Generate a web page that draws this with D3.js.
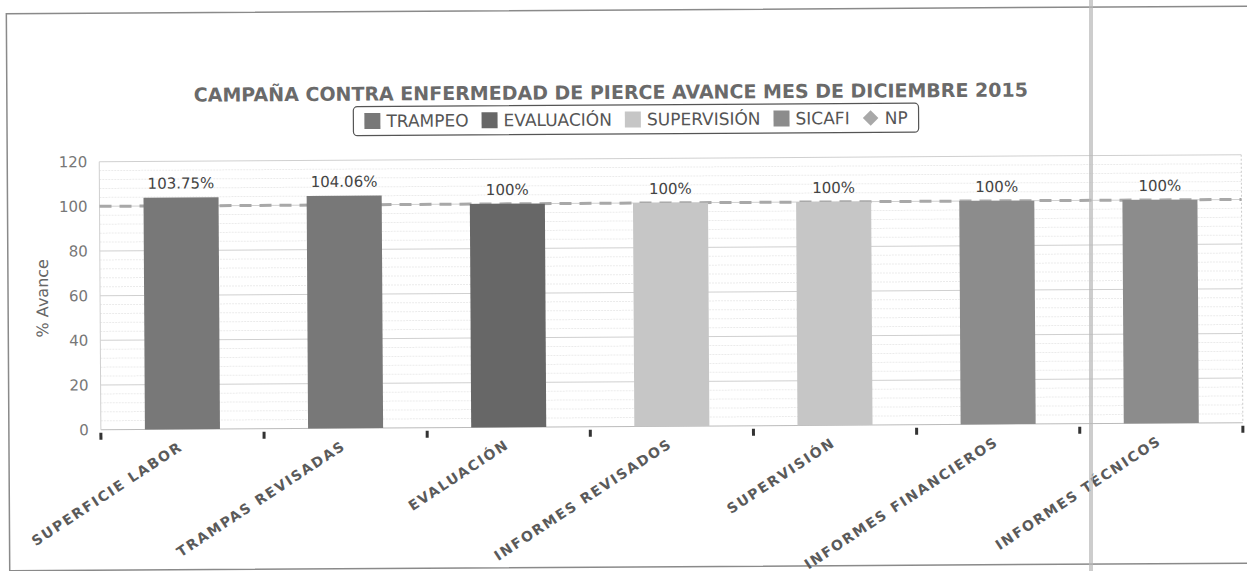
<!DOCTYPE html>
<html>
<head>
<meta charset="utf-8">
<script src="https://cdn.jsdelivr.net/npm/d3@7"></script>
<style>
  body { margin: 0; background: #fff; }
  text { font-family: "DejaVu Sans", Verdana, sans-serif; }
</style>
</head>
<body>
<div id="chart"></div>
<script>
// data
var categories = ['SUPERFICIE LABOR', 'TRAMPAS REVISADAS', 'EVALUACIÓN', 'INFORMES REVISADOS',
                  'SUPERVISIÓN', 'INFORMES FINANCIEROS', 'INFORMES TÉCNICOS'];
var values = [103.75, 104.06, 100, 100, 100, 100, 100];
var valueLabels = ['103.75%', '104.06%', '100%', '100%', '100%', '100%', '100%'];
var barSeries = ['TRAMPEO', 'TRAMPEO', 'EVALUACIÓN', 'SUPERVISIÓN', 'SUPERVISIÓN', 'SICAFI', 'SICAFI'];
var seriesNames = ['TRAMPEO', 'EVALUACIÓN', 'SUPERVISIÓN', 'SICAFI', 'NP'];
var seriesColors = ['#787878', '#676767', '#c6c6c6', '#8c8c8c', '#a8a8a8'];
var npValues = [100, 100, 100, 100, 100, 100, 100];
var yTicks = [0, 20, 40, 60, 80, 100, 120];

var W = 1247, H = 571;
var m = {left: 100, right: 5, top: 158.5, bottom: 144.5};

var svg = d3.select('#chart').append('svg')
  .attr('width', W)
  .attr('height', H);

// the scan is slightly tilted
var root = svg.append('g')
  .attr('transform', 'rotate(-0.35,623,285)');

root.append('rect')
  .attr('x', 8).attr('y', 10)
  .attr('width', W + 10).attr('height', 557)
  .style('fill', 'none')
  .style('stroke', '#8a8a8a')
  .style('stroke-width', 1.5);

var x = d3.scaleBand()
  .domain(categories)
  .range([m.left, W - m.right])
  .paddingInner(0.54)
  .paddingOuter(0.27);

var y = d3.scaleLinear()
  .domain([0, 120])
  .range([H - m.bottom, m.top]);

var color = d3.scaleOrdinal().domain(seriesNames).range(seriesColors);

// minor grid
root.append('g').selectAll('line')
  .data(d3.range(0, 121, 4).filter(function(d){ return d % 20 != 0; }))
  .enter().append('line')
    .attr('x1', m.left).attr('x2', W - m.right)
    .attr('y1', y).attr('y2', y)
    .style('stroke', '#ebebeb')
    .style('stroke-dasharray', '2,1');

// major grid
root.append('g').selectAll('line')
  .data(yTicks)
  .enter().append('line')
    .attr('x1', m.left).attr('x2', W - m.right)
    .attr('y1', y).attr('y2', y)
    .style('stroke', function(d){ return d == 0 ? '#bbb' : '#d0d0d0'; });

root.append('line')
  .attr('x1', m.left).attr('x2', m.left)
  .attr('y1', y(120)).attr('y2', y(0))
  .style('stroke', '#d0d0d0');
root.append('line')
  .attr('x1', W - m.right).attr('x2', W - m.right)
  .attr('y1', y(120)).attr('y2', y(0))
  .style('stroke', '#ccc')
  .style('stroke-dasharray', '2,2');

// y axis labels
var yAxis = d3.axisLeft(y).tickValues(yTicks).tickSize(0).tickPadding(12);
var gy = root.append('g')
  .attr('transform', 'translate(' + m.left + ',0)')
  .call(yAxis);
gy.select('.domain').remove();
gy.selectAll('text')
  .style('font-size', '15px')
  .style('fill', '#777')
  .style('font-family', '"DejaVu Sans", sans-serif');

root.append('text')
  .attr('transform', 'translate(48,' + y(59) + ') rotate(-90)')
  .attr('text-anchor', 'middle')
  .style('font-size', '16px')
  .style('fill', '#666')
  .text('% Avance');

// NP dashed line (behind bars)
var npLine = d3.line()
  .x(function(d, i){ return i == 0 ? m.left : (i == npValues.length + 1 ? W - m.right : x(categories[i-1]) + x.bandwidth()/2); })
  .y(function(d){ return y(d); });
root.append('path')
  .datum([npValues[0]].concat(npValues).concat([npValues[npValues.length-1]]))
  .attr('d', npLine)
  .style('fill', 'none')
  .style('stroke', color('NP'))
  .style('stroke-width', 3)
  .style('stroke-dasharray', '12,8');

// bars
root.append('g').selectAll('rect')
  .data(values)
  .enter().append('rect')
    .attr('x', function(d, i){ return x(categories[i]); })
    .attr('y', function(d){ return y(d); })
    .attr('width', x.bandwidth())
    .attr('height', function(d){ return y(0) - y(d); })
    .style('fill', function(d, i){ return color(barSeries[i]); });

// value labels
root.append('g').selectAll('text')
  .data(values)
  .enter().append('text')
    .attr('x', function(d, i){ return x(categories[i]) + x.bandwidth()/2; })
    .attr('y', function(d){ return y(d) - 9; })
    .attr('text-anchor', 'middle')
    .style('font-size', '15px')
    .style('fill', '#444')
    .text(function(d, i){ return valueLabels[i]; });

// category ticks
var step = x.step();
root.append('g').selectAll('rect')
  .data(d3.range(categories.length + 1))
  .enter().append('rect')
    .attr('x', function(d){ return (d < categories.length ? x(categories[d]) - x.paddingOuter()*step : W - m.right) - 1.5; })
    .attr('y', y(0) + 3)
    .attr('width', 3).attr('height', 7)
    .style('fill', '#333');

// category labels
root.append('g').selectAll('text')
  .data(categories)
  .enter().append('text')
    .attr('transform', function(d){
      return 'translate(' + (x(d) + x.bandwidth()/2 + 1) + ',' + (y(0) + 20) + ') rotate(-33)';
    })
    .attr('text-anchor', 'end')
    .style('font-size', '14px')
    .style('font-weight', 'bold')
    .style('letter-spacing', '1.7px')
    .style('fill', '#5a5a5a')
    .text(function(d){ return d; });

// title
root.append('text')
  .attr('x', 612).attr('y', 99)
  .attr('text-anchor', 'middle')
  .style('font-size', '19px')
  .style('font-weight', 'bold')
  .style('fill', '#6a6a6a')
  .text('CAMPAÑA CONTRA ENFERMEDAD DE PIERCE AVANCE MES DE DICIEMBRE 2015');

// legend
var legend = root.append('g');
var legendBox = legend.append('rect')
  .attr('y', 105).attr('height', 29)
  .attr('rx', 4)
  .style('fill', '#fff')
  .style('stroke', '#555')
  .style('stroke-width', 1.2);

var lx = 0, offs = [];
var items = legend.selectAll('g.item')
  .data(seriesNames)
  .enter().append('g').attr('class', 'item');
items.each(function(d){
  var g = d3.select(this);
  if(d == 'NP'){
    g.append('rect')
      .attr('x', -5.5).attr('y', -5.5)
      .attr('width', 11).attr('height', 11)
      .attr('transform', 'translate(8,0) rotate(45)')
      .style('fill', color(d));
  } else {
    g.append('rect')
      .attr('x', 0).attr('y', -8)
      .attr('width', 16).attr('height', 16)
      .style('fill', color(d));
  }
  var t = g.append('text')
    .attr('x', 22).attr('y', 6)
    .style('font-size', '17px')
    .style('fill', '#555')
    .text(d);
  offs.push(lx);
  lx += 22 + t.node().getComputedTextLength() + 13;
});
var legendW = lx - 13 + 22;
var legendX = 637 - legendW/2;
legendBox.attr('x', legendX).attr('width', legendW);
items.attr('transform', function(d, i){
  return 'translate(' + (legendX + 11 + offs[i]) + ',119.5)';
});

// scan artefact: fold line
svg.append('rect')
  .attr('x', 1089).attr('y', 0)
  .attr('width', 4).attr('height', H)
  .style('fill', '#b8b8b8')
  .style('opacity', 0.7);
</script>
</body>
</html>
